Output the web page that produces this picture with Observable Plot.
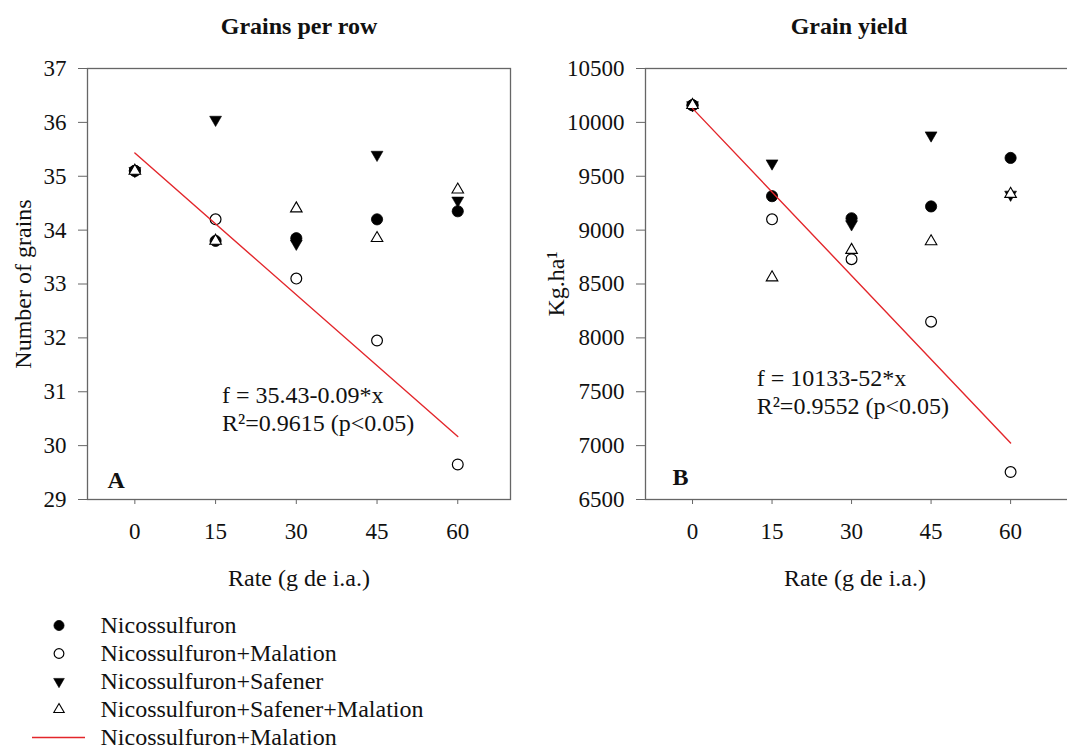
<!DOCTYPE html>
<html><head><meta charset="utf-8">
<script src="https://cdn.jsdelivr.net/npm/d3@7"></script>
<script src="https://cdn.jsdelivr.net/npm/@observablehq/plot@0.6"></script>
<style>
body{margin:0;background:#fff;}
#wrap{position:relative;width:1067px;height:749px;overflow:hidden;background:#fff;}
#wrap > svg{position:absolute;}
#wrap svg, #wrap svg text{font-family:"Liberation Serif","Times New Roman",serif !important;}
</style></head><body><div id="wrap"></div>
<script>
// ---- data ----
const rates = [0, 15, 30, 45, 60];
const rateTicks = [0, 15, 30, 45, 60];
const seriesNames = ["Nicossulfuron", "Nicossulfuron+Malation", "Nicossulfuron+Safener", "Nicossulfuron+Safener+Malation"];
const regressionName = "Nicossulfuron+Malation";

const grainsNic       = [35.1, 33.8, 33.85, 34.2, 34.35];
const grainsNicMal    = [35.1, 34.2, 33.1, 31.95, 29.65];
const grainsNicSaf    = [35.1, 36.05, 33.75, 35.4, 34.55];
const grainsNicSafMal = [35.1, 33.8, 34.4, 33.85, 34.75];

const yieldNic       = [10160, 9315, 9110, 9220, 9670];
const yieldNicMal    = [10160, 9100, 8730, 8150, 6755];
const yieldNicSaf    = [10160, 9620, 9055, 9880, 9330];
const yieldNicSafMal = [10160, 8560, 8815, 8895, 9335];

const fitRates = [0, 60];
const grainsFit = [35.43, 30.17];
const yieldFit = [10130, 7025];

const grainTicks = [29, 30, 31, 32, 33, 34, 35, 36, 37];
const yieldTicks = [6500, 7000, 7500, 8000, 8500, 9000, 9500, 10000, 10500];

const grainsEq = ["f = 35.43-0.09*x", "R²=0.9615 (p<0.05)"];
const yieldEq = ["f = 10133-52*x", "R²=0.9552 (p<0.05)"];

// ---- styles ----
const FONT = "'Liberation Serif', 'Times New Roman', serif";
const RED = "#e3262b";
const AXIS = "#666";
const FS = 24;
const seriesStyles = [
  {symbol: "circle", fill: "#000", stroke: "#000", r: 5.6, rotate: 0, strokeWidth: 0.8},
  {symbol: "circle", fill: "none", stroke: "#000", r: 5.4, rotate: 0, strokeWidth: 1.2},
  {symbol: "triangle", fill: "#000", stroke: "#000", r: 4.4, rotate: 180, strokeWidth: 0.6},
  {symbol: "triangle", fill: "#fff", stroke: "#000", r: 4.3, rotate: 0, strokeWidth: 1.1}
];

function panel(o) {
  const rows = [];
  o.values.forEach((arr, s) => arr.forEach((v, i) => rows.push({s, series: seriesNames[s], rate: rates[i], value: v})));
  const fitRows = fitRates.map((x, i) => ({rate: x, value: o.fit[i]}));
  const eqRows = o.eq.map((t, i) => ({text: t, rate: o.eqX, value: o.eqY[i]}));
  const chart = Plot.plot({
    width: o.width, height: 620,
    marginLeft: o.marginLeft, marginRight: o.marginRight, marginTop: 68, marginBottom: 121,
    style: {fontFamily: FONT, fontSize: "23px", color: "#111", background: "transparent", overflow: "visible"},
    x: {domain: o.xDomain},
    y: {domain: o.yDomain},
    marks: [
      Plot.frame({stroke: AXIS, strokeWidth: 1.3}),
      Plot.axisY({ticks: o.yTicks, tickSize: 9, tickPadding: 12, stroke: AXIS, fill: "#111", label: null, tickFormat: d => String(d), fontSize: 23}),
      Plot.axisX({ticks: rateTicks, tickSize: 5, tickPadding: 18, stroke: AXIS, fill: "#111", label: null, tickFormat: d => String(d), fontSize: 23}),
      ...seriesStyles.map((st, s) => Plot.dot(rows.filter(r => r.s === s), {
        x: "rate", y: "value", symbol: st.symbol, r: st.r, rotate: st.rotate,
        fill: st.fill, stroke: st.stroke, strokeWidth: st.strokeWidth
      })),
      Plot.line(fitRows, {x: "rate", y: "value", stroke: RED, strokeWidth: 1.4}),
      Plot.text(eqRows, {x: "rate", y: "value", text: "text", textAnchor: "start", lineAnchor: "bottom", fontSize: FS, fill: "#111"}),
      Plot.text([o.letter], {text: d => d, frameAnchor: "bottom-left", dx: o.letterDx, dy: o.letterDy, textAnchor: "start", lineAnchor: "bottom", fontWeight: "bold", fontSize: FS, fill: "#111"}),
      Plot.text([o.title], {text: d => d, frameAnchor: "top", dx: o.titleDx, dy: -35, textAnchor: "middle", lineAnchor: "bottom", fontWeight: "bold", fontSize: FS, fill: "#111"}),
      Plot.text(["Rate (g de i.a.)"], {text: d => d, frameAnchor: "bottom", dx: o.xLabelDx, dy: 86, textAnchor: "middle", lineAnchor: "bottom", fontSize: FS, fill: "#111"}),
      Plot.text([o.yLabel], {text: d => d, frameAnchor: "left", dx: o.yLabelDx, rotate: -90, textAnchor: "middle", lineAnchor: "bottom", fontSize: FS, fill: "#111"})
    ]
  });
  chart.style.left = o.left + "px";
  chart.style.top = "0px";
  return chart;
}

const wrap = document.getElementById("wrap");

wrap.appendChild(panel({
  left: 0, width: 530, marginLeft: 87, marginRight: 20,
  xDomain: [-8.8, 69.8], yDomain: [29, 37], yTicks: grainTicks,
  values: [grainsNic, grainsNicMal, grainsNicSaf, grainsNicSafMal],
  fit: grainsFit, eq: grainsEq, eqX: 16.2, eqY: [30.79, 30.27],
  letter: "A", letterDx: 20, letterDy: -12,
  title: "Grains per row", titleDx: 0, xLabelDx: 0,
  yLabel: "Number of grains", yLabelDx: -57
}));

wrap.appendChild(panel({
  left: 530, width: 540, marginLeft: 115, marginRight: 0,
  xDomain: [-8.87, 71.3], yDomain: [6500, 10500], yTicks: yieldTicks,
  values: [yieldNic, yieldNicMal, yieldNicSaf, yieldNicSafMal],
  fit: yieldFit, eq: yieldEq, eqX: 12.1, eqY: [7549, 7296],
  letter: "B", letterDx: 27, letterDy: -15,
  title: "Grain yield", titleDx: -9, xLabelDx: -3,
  yLabel: "Kg.ha¹", yLabelDx: -82
}));

// ---- legend ----
const legendLabels = [...seriesNames, regressionName];
const legendIdx = legendLabels.map((d, i) => i);
const legend = Plot.plot({
  width: 450, height: 147,
  marginLeft: 32, marginRight: 365, marginTop: 23, marginBottom: 9,
  style: {fontFamily: FONT, fontSize: "23px", color: "#111", background: "transparent", overflow: "visible"},
  y: {type: "point", domain: legendIdx, padding: 0, axis: null},
  marks: [
    ...seriesStyles.map((st, s) => Plot.dot([s], {
      y: d => d, symbol: st.symbol, r: st.r * 0.9, rotate: st.rotate,
      fill: st.fill, stroke: st.stroke, strokeWidth: st.strokeWidth
    })),
    Plot.ruleY([legendLabels.length - 1], {y: d => d, stroke: RED, strokeWidth: 1.4}),
    Plot.text(legendIdx, {y: d => d, text: d => legendLabels[d], frameAnchor: "right", dx: 15, textAnchor: "start", lineAnchor: "middle", fontSize: FS, fill: "#111"})
  ]
});
legend.style.left = "0px";
legend.style.top = "600px";
wrap.appendChild(legend);
</script>
</body></html>
